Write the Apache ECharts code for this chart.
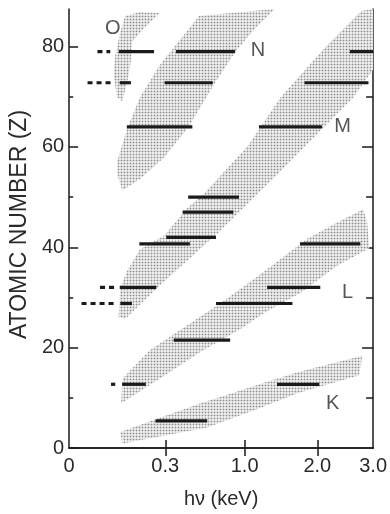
<!DOCTYPE html>
<html>
<head>
<meta charset="utf-8">
<script src="https://cdn.jsdelivr.net/npm/echarts@6/dist/echarts.min.js"></script>
<style>
  html, body { margin: 0; padding: 0; background: #fff; }
  #chart { width: 390px; height: 514px; }
</style>
</head>
<body>
<div id="chart"></div>
<script>
// Photon energy ticks (keV). The horizontal axis runs linearly in sqrt(E).
const energyTicks = [0, 0.3, 1.0, 2.0, 3.0];
const energyTickLabels = ['0', '0.3', '1.0', '2.0', '3.0'];
const zMajorTicks = [0, 20, 40, 60, 80];
const zMinorTicks = [10, 30, 50, 70];

// Shell bands: outline vertices as (energy in keV, atomic number)
const oBandEnergy = [0.102, 0.163, 0.266, 0.186, 0.129, 0.125, 0.113, 0.092, 0.075, 0.064, 0.069, 0.085];
const oBandZ      = [86.1, 86.9, 86.7, 83.8, 81.0, 77.7, 73.8, 69.1, 69.9, 74.4, 78.2, 82.9];

const nBandEnergy = [0.548, 1.373, 1.111, 0.897, 0.688, 0.468, 0.296, 0.163, 0.092, 0.075, 0.075, 0.109, 0.163, 0.266, 0.445];
const nBandZ      = [86.1, 87.5, 83.4, 79.0, 72.7, 64.2, 58.0, 53.6, 51.3, 54.6, 57.1, 63.6, 69.9, 76.3, 82.9];

const mBandEnergy = [0.079, 0.085, 0.109, 0.163, 0.296, 0.452, 0.590, 1.041, 1.453, 2.108, 2.772, 3.0, 3.0, 2.624, 1.412, 0.726, 0.266, 0.102];
const mBandZ      = [26.1, 32.0, 35.3, 39.6, 42.4, 47.8, 50.7, 60.3, 69.9, 79.6, 87.1, 87.5, 75.4, 69.9, 54.6, 43.0, 32.4, 25.7];

const lBandEnergy = [0.088, 0.092, 0.211, 0.416, 0.755, 1.244, 1.840, 2.325, 2.809, 2.885, 2.923, 2.325, 1.735, 1.244, 0.962, 0.548, 0.266];
const lBandZ      = [8.9, 13.8, 19.5, 23.8, 29.0, 35.3, 41.7, 44.9, 47.6, 44.9, 39.8, 36.3, 30.9, 27.0, 23.8, 19.0, 13.8];

const kBandEnergy = [0.085, 0.548, 1.158, 1.691, 2.790, 2.734, 1.691, 1.158, 0.619, 0.092];
const kBandZ      = [3.2, 8.8, 12.6, 15.1, 18.4, 14.5, 10.9, 7.8, 4.1, 0.9];

// Edge ranges for individual elements: atomic number, energy span (keV),
// and an optional dashed extension toward lower energy
const levelZ        = [79, 72.8, 79, 72.8, 64, 79, 72.8, 64, 50, 47, 42, 40.7, 32, 28.8, 40.7, 32, 28.8, 21.5, 12.7, 12.7, 5.4];
const levelStart    = [0.080, 0.083, 0.371, 0.296, 0.108, 2.557, 1.799, 1.170, 0.460, 0.418, 0.306, 0.160, 0.083, 0.085, 1.731, 1.273, 0.700, 0.355, 0.091, 1.403, 0.242];
const levelEnd      = [0.234, 0.124, 0.894, 0.670, 0.493, 3.0, 2.909, 2.075, 0.937, 0.876, 0.700, 0.473, 0.247, 0.128, 2.753, 2.048, 1.619, 0.842, 0.191, 2.032, 0.619];
const levelDashFrom = [0.026, 0.011, null, null, null, null, null, null, null, null, null, null, 0.031, 0.005, null, null, null, null, 0.057, null, null];
const levelDashTo   = [0.055, 0.064, null, null, null, null, null, null, null, null, null, null, 0.069, 0.069, null, null, null, null, 0.069, null, null];

// Shell name labels
const shellNames  = ['O', 'N', 'M', 'L', 'K'];
const shellLabelE = [0.062, 1.158, 2.428, 2.516, 2.257];
const shellLabelZ = [83.6, 79.2, 64.0, 30.9, 8.95];

const bands = [
  [oBandEnergy, oBandZ],
  [nBandEnergy, nBandZ],
  [mBandEnergy, mBandZ],
  [lBandEnergy, lBandZ],
  [kBandEnergy, kBandZ]
];

const FONT = "'Liberation Sans', Arial, Helvetica, sans-serif";
const INK = '#1a1a1a';
const TEXT = '#2a2a2a';
const sq = Math.sqrt;

// Fine halftone dot texture for the bands
function stippleTile() {
  const c = document.createElement('canvas');
  c.width = 3; c.height = 3;
  const g = c.getContext('2d');
  g.fillStyle = '#ececec';
  g.fillRect(0, 0, 3, 3);
  g.fillStyle = '#cfcfcf';
  g.fillRect(0, 1, 1, 1);
  g.fillRect(2, 1, 1, 1);
  g.fillRect(1, 0, 1, 1);
  g.fillRect(1, 2, 1, 1);
  g.fillStyle = '#8e8e8e';
  g.fillRect(1, 1, 1, 1);
  return c;
}
const stipple = { image: stippleTile(), repeat: 'repeat' };

function energyLabel(v) {
  for (let i = 0; i < energyTicks.length; i++) {
    if (Math.abs(sq(energyTicks[i]) - v) < 1e-6) return energyTickLabels[i];
  }
  return '';
}

const chart = echarts.init(document.getElementById('chart'), null, { renderer: 'canvas' });

const axisLineStyle = { color: INK, width: 1.5 };
const innerTicksE = energyTicks.slice(1, -1).map(sq);

chart.setOption({
  animation: false,
  backgroundColor: '#fff',
  grid: { left: 68, top: 9, width: 309, height: 454.5, containLabel: false },
  xAxis: [
    {
      type: 'value', position: 'bottom', min: 0, max: sq(3),
      axisLine: { show: true, lineStyle: axisLineStyle },
      axisTick: { show: true, inside: true, length: 8, customValues: innerTicksE, lineStyle: axisLineStyle },
      axisLabel: {
        show: true, customValues: energyTicks.map(sq), formatter: energyLabel,
        fontFamily: FONT, fontSize: 20, color: TEXT, margin: 8
      },
      splitLine: { show: false },
      name: 'hν (keV)', nameLocation: 'middle', nameGap: 41,
      nameTextStyle: { fontFamily: FONT, fontSize: 20, color: TEXT }
    },
    {
      type: 'value', position: 'top', min: 0, max: sq(3),
      axisLine: { show: true, lineStyle: axisLineStyle },
      axisTick: { show: true, inside: true, length: 8, customValues: innerTicksE, lineStyle: axisLineStyle },
      axisLabel: { show: false },
      splitLine: { show: false }
    }
  ],
  yAxis: [
    {
      type: 'value', position: 'left', min: 0, max: 87.5,
      axisLine: { show: true, lineStyle: axisLineStyle },
      axisTick: { show: true, inside: true, length: 9, customValues: zMajorTicks, lineStyle: axisLineStyle },
      axisLabel: {
        show: true, customValues: zMajorTicks,
        fontFamily: FONT, fontSize: 20, color: TEXT, margin: 5
      },
      splitLine: { show: false },
      name: 'ATOMIC NUMBER (Z)', nameLocation: 'middle', nameGap: 31, nameRotate: 90,
      nameTextStyle: { fontFamily: FONT, fontSize: 23, color: TEXT, padding: [0, 0, 0, 8] }
    },
    {
      type: 'value', position: 'left', min: 0, max: 87.5,
      axisLine: { show: false },
      axisTick: { show: true, inside: true, length: 4, customValues: zMinorTicks, lineStyle: axisLineStyle },
      axisLabel: { show: false },
      splitLine: { show: false }
    },
    {
      type: 'value', position: 'right', min: 0, max: 87.5,
      axisLine: { show: true, lineStyle: axisLineStyle },
      axisTick: { show: true, inside: true, length: 11, customValues: zMajorTicks.slice(1), lineStyle: axisLineStyle },
      axisLabel: { show: false },
      splitLine: { show: false }
    },
    {
      type: 'value', position: 'right', min: 0, max: 87.5,
      axisLine: { show: false },
      axisTick: { show: true, inside: true, length: 7, customValues: zMinorTicks, lineStyle: axisLineStyle },
      axisLabel: { show: false },
      splitLine: { show: false }
    }
  ],
  series: [
    {
      // stippled shell bands
      type: 'custom',
      xAxisIndex: 0, yAxisIndex: 0,
      clip: true,
      silent: true,
      z: 1,
      data: bands.map((b, i) => [sq(b[0][0]), b[1][0], i]),
      renderItem(params, api) {
        const band = bands[params.dataIndex];
        const pts = band[0].map((e, j) => api.coord([sq(e), band[1][j]]));
        return {
          type: 'polygon',
          shape: { points: pts },
          style: { fill: stipple, stroke: null }
        };
      }
    },
    {
      // element edge ranges
      type: 'custom',
      xAxisIndex: 0, yAxisIndex: 0,
      clip: true,
      silent: true,
      z: 3,
      encode: { x: [0, 1], y: 2 },
      data: levelZ.map((z, i) => [sq(levelStart[i]), sq(levelEnd[i]), z]),
      renderItem(params, api) {
        const i = params.dataIndex;
        const z = api.value(2);
        const a = api.coord([api.value(0), z]);
        const b = api.coord([api.value(1), z]);
        const children = [{
          type: 'line',
          shape: { x1: a[0], y1: a[1], x2: b[0], y2: b[1] },
          style: { stroke: INK, lineWidth: 3.2 }
        }];
        if (levelDashFrom[i] != null) {
          const c = api.coord([sq(levelDashFrom[i]), z]);
          const d = api.coord([sq(levelDashTo[i]), z]);
          children.push({
            type: 'line',
            shape: { x1: c[0], y1: c[1], x2: d[0], y2: d[1] },
            style: { stroke: INK, lineWidth: 3.2, lineDash: [5, 4] }
          });
        }
        return { type: 'group', children };
      }
    },
    {
      // shell names
      type: 'scatter',
      xAxisIndex: 0, yAxisIndex: 0,
      symbolSize: 0,
      silent: true,
      z: 4,
      data: shellNames.map((n, i) => ({ value: [sq(shellLabelE[i]), shellLabelZ[i]], name: n })),
      label: {
        show: true, position: 'inside', formatter: '{b}',
        fontFamily: FONT, fontSize: 20, color: TEXT
      }
    }
  ]
});
</script>
</body>
</html>
